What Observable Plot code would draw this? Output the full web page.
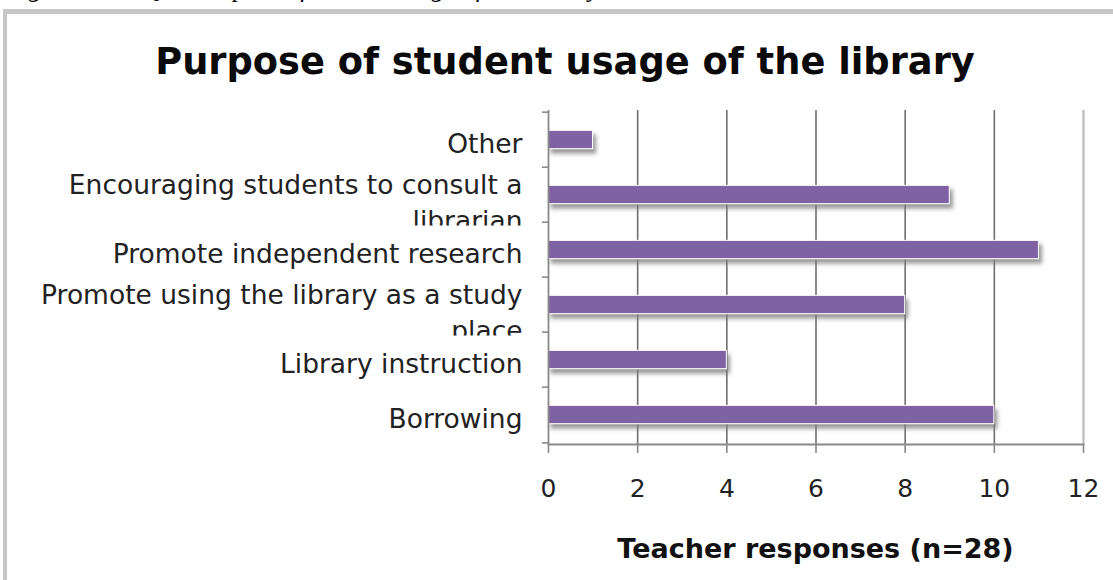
<!DOCTYPE html>
<html><head><meta charset="utf-8">
<script src="https://cdn.jsdelivr.net/npm/d3@7"></script>
<script src="https://cdn.jsdelivr.net/npm/@observablehq/plot@0.6"></script>
<style>
html,body{margin:0;padding:0;background:#fff;}
body{width:1113px;height:580px;overflow:hidden;position:relative;font-family:"DejaVu Sans",Verdana,sans-serif;color:#111;}
#cap{position:absolute;left:6px;top:-24px;font:italic 26px/1 "Liberation Serif","Times New Roman",serif;white-space:nowrap;color:#000;}
#frame{position:absolute;left:3px;top:9px;width:1200px;height:700px;border-left:4px solid #c6c6c6;border-top:5px solid #c6c6c6;}
#title{position:absolute;left:0;width:1130px;top:40px;text-align:center;font-weight:bold;font-size:36.8px;line-height:44px;color:#0a0a0a;}
#chart{position:absolute;left:0;top:90px;}
#xlabel{position:absolute;left:548px;width:535px;top:532px;text-align:center;font-weight:bold;font-size:27px;line-height:34px;color:#111;}
</style>
</head><body>
<div id="cap">Figure 4.10: Q10 Purpose of student usage of the library</div>
<div id="frame"></div>
<div id="title">Purpose of student usage of the library</div>
<div id="chart"></div>
<div id="xlabel">Teacher responses (n=28)</div>
<script>
const categories = ["Other", "Encouraging students to consult a librarian", "Promote independent research", "Promote using the library as a study place", "Library instruction", "Borrowing"];
const values = [1, 9, 11, 8, 4, 10];
const yTickLabels = ["Other", "Encouraging students to consult a\nlibrarian", "Promote independent research", "Promote using the library as a study\nplace", "Library instruction", "Borrowing"];
const xTicks = [0, 2, 4, 6, 8, 10, 12];
const xGrid = [2, 4, 6, 8, 10];
const xMax = [12];

const data = categories.map((c, i) => ({category: c, value: values[i]}));
const labelOf = new Map(categories.map((c, i) => [c, yTickLabels[i]]));
const wrapped = categories.filter((c, i) => yTickLabels[i].includes("\n"));
const single = categories.filter((c, i) => !yTickLabels[i].includes("\n"));

const W = 1113, H = 425, mT = 20, mB = 71, mL = 548, mR = 30;
const bw = (H - mT - mB) / categories.length;
const barH = 19;
const labelStyle = {tickSize: 0, tickPadding: 26, fontSize: 26.5, lineHeight: 1.36, fill: "#222", tickFormat: d => labelOf.get(d), label: null};

const chart = Plot.plot({
  width: W, height: H,
  marginLeft: mL, marginRight: mR, marginTop: mT, marginBottom: mB,
  style: {fontFamily: "'DejaVu Sans', Verdana, sans-serif", background: "transparent", color: "#111", overflow: "visible"},
  x: {domain: [0, 12], axis: null},
  y: {domain: categories, padding: 0, axis: null},
  marks: [
    Plot.gridX(xGrid, {stroke: "#6f6f6f", strokeOpacity: 1, strokeWidth: 1.6}),
    Plot.ruleX(xMax, {stroke: "#bdbdbd", strokeWidth: 2.2}),
    Plot.barX(data, {x: "value", y: "category", fill: "#7e62a3", stroke: "#ffffff", strokeWidth: 1,
      insetTop: (bw - barH) / 2, insetBottom: (bw - barH) / 2}),
    Plot.ruleX([0], {stroke: "#8a8a8a", strokeWidth: 1.8}),
    Plot.frame({anchor: "bottom", stroke: "#8a8a8a", strokeWidth: 1.8}),
    Plot.axisX({ticks: xTicks, tickSize: 9, tickPadding: 26, fontSize: 25, stroke: "#8a8a8a", strokeWidth: 1.6, fill: "#222", tickFormat: d => String(d), label: null}),
    Plot.axisY({tickSize: 6, text: null, stroke: "#8a8a8a", strokeWidth: 1.6, dy: -bw / 2, label: null}),
    Plot.axisY(["Borrowing"], {tickSize: 6, text: null, stroke: "#8a8a8a", strokeWidth: 1.6, dy: bw / 2, label: null}),
    Plot.axisY(single, {...labelStyle, dy: 1.5}),
    Plot.axisY(wrapped, {...labelStyle, dy: 5.5})
  ]
});

const svgNS = "http://www.w3.org/2000/svg";
const defs = document.createElementNS(svgNS, "defs");
defs.innerHTML = `<filter id="shadow" x="-5%" y="-50%" width="115%" height="250%">
  <feDropShadow dx="3" dy="4.5" stdDeviation="2" flood-color="#7d7d7d" flood-opacity="0.8"/>
</filter>`;
chart.insertBefore(defs, chart.firstChild);
chart.querySelectorAll('g[aria-label="bar"]').forEach(g => g.setAttribute("filter", "url(#shadow)"));

document.getElementById("chart").appendChild(chart);

// wrapped labels: the second line is cut off at the band edge, as in the original
let k = 0;
chart.querySelectorAll('g[aria-label="y-axis tick label"] text').forEach(t => {
  if (t.querySelectorAll("tspan").length < 2) return;
  const b = t.getBBox();
  const id = "lblclip" + (k++);
  const cp = document.createElementNS(svgNS, "clipPath");
  cp.setAttribute("id", id);
  cp.setAttribute("clipPathUnits", "userSpaceOnUse");
  const r = document.createElementNS(svgNS, "rect");
  r.setAttribute("x", b.x - 10);
  r.setAttribute("y", b.y - 10);
  r.setAttribute("width", b.width + 20);
  r.setAttribute("height", b.height + 10 - 10.5);
  cp.appendChild(r);
  defs.appendChild(cp);
  t.setAttribute("clip-path", `url(#${id})`);
});
</script>
</body></html>
